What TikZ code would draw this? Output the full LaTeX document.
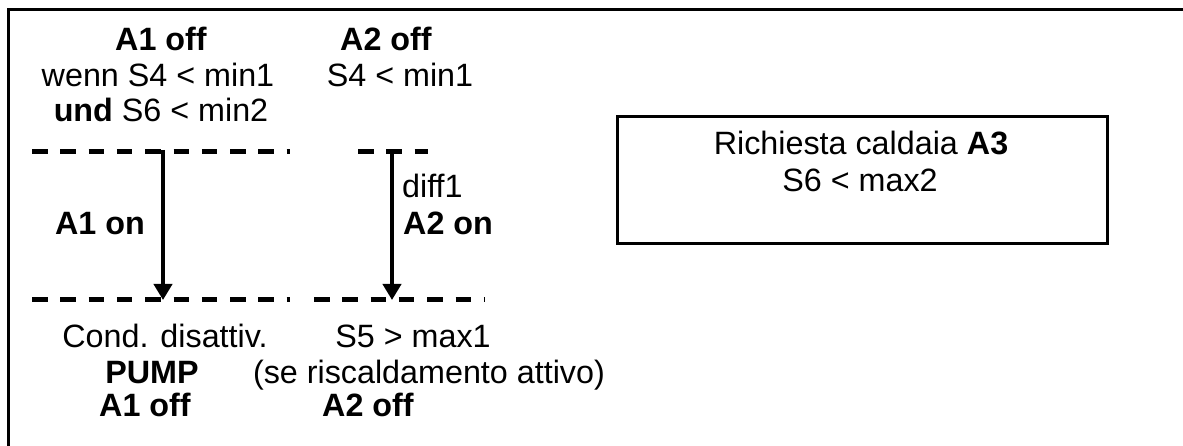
\documentclass[tikz,border=0pt]{standalone}
\usepackage{fontspec}
\setmainfont{Liberation Sans}
\usetikzlibrary{arrows.meta}
\begin{document}
\begin{tikzpicture}[x=1pt,y=-1pt,
  txt/.style={inner sep=0pt,anchor=base,font=\fontsize{32.3}{37}\selectfont},
  txtw/.style={txt,anchor=base west},
  dashline/.style={line width=5pt,dash pattern=on 15.5pt off 12.8pt},
  flow/.style={line width=4.5pt,-{Triangle[width=18pt,length=16pt]}},
  frameline/.style={line width=3pt},
  boxnode/.style={draw,line width=3pt,minimum width=490pt,minimum height=127pt,inner sep=0pt}]
\useasboundingbox (0,0) rectangle (1183,446);
% frame (top and left edges only)
\coordinate (fr1) at (1183,10);
\coordinate (fr2) at (8,10);
\coordinate (fr3) at (8,446);
\draw[frameline] (fr1) -- (fr2) -- (fr3);

% upper texts
\node[txt] (a1off) at (161,51) {\textbf{A1 off}};
\node[txt] (wenn) at (158,87) {wenn S4 < min1};
\node[txt] (und) at (161,122) {\textbf{und} S6 < min2};
\node[txt] (a2off) at (386,51) {\textbf{A2 off}};
\node[txt] (s4) at (400,87) {S4 < min1};

% dashed lines
\coordinate (u1s) at (32,152);
\coordinate (u1e) at (290,152);
\coordinate (u2s) at (358,152);
\coordinate (u2e) at (428,152);
\coordinate (l1s) at (32,300);
\coordinate (l1e) at (290,300);
\coordinate (l2s) at (314,300);
\coordinate (l2e) at (485,300);
\draw[dashline] (u1s) -- (u1e);
\draw[dashline] (u2s) -- (u2e);
\draw[dashline] (l1s) -- (l1e);
\draw[dashline] (l2s) -- (l2e);

% arrows
\coordinate (ar1s) at (163,150);
\coordinate (ar1e) at (163,300);
\coordinate (ar2s) at (392,150);
\coordinate (ar2e) at (392,300);
\draw[flow] (ar1s) -- (ar1e);
\draw[flow] (ar2s) -- (ar2e);

% arrow labels
\node[txt] (a1on) at (100,235) {\textbf{A1 on}};
\node[txtw] (diff) at (402,198) {diff1};
\node[txtw] (a2on) at (403,235) {\textbf{A2 on}};

% lower texts
\node[txt] (cond) at (165,347) {Cond. disattiv.};
\node[txt] (pump) at (152,383) {\textbf{PUMP}};
\node[txt] (a1offb) at (145,416) {\textbf{A1 off}};
\node[txt] (s5) at (413,347) {S5 > max1};
\node[txt] (se) at (429,383) {(se riscaldamento attivo)};
\node[txt] (a2offb) at (368,416) {\textbf{A2 off}};

% right box
\node[boxnode] (rbox) at (862,180.5) {};
\node[txt] (rich) at (861,155) {Richiesta caldaia \textbf{A3}};
\node[txt] (s6) at (860,192) {S6 < max2};
\end{tikzpicture}
\end{document}
